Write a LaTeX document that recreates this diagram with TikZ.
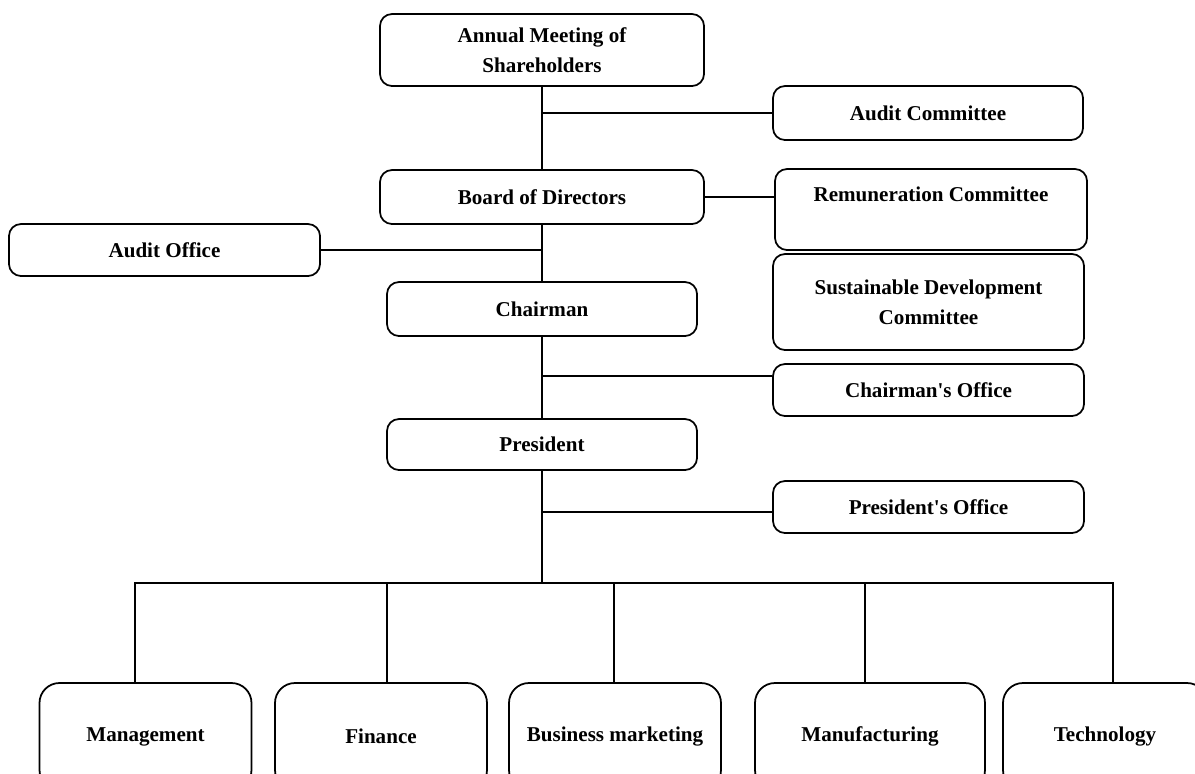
\documentclass[tikz,border=0pt]{standalone}
\usepackage{fontspec}
\setmainfont{Liberation Serif}[Ligatures=TeXOff]
\usetikzlibrary{calc}

\tikzset{
  unit/.style={draw, line width=1.5pt, rounded corners=0.36cm, align=center,
    font=\fontsize{18}{25.6}\selectfont\bfseries, inner sep=0pt},
  dept/.style={unit, rounded corners=0.6cm, minimum width=6.36cm, minimum height=3.21cm},
  wire/.style={line width=1.5pt}
}

\begin{document}
\begin{tikzpicture}[x=0.03cm, y=-0.03cm]

\clip (0,0) rectangle (1195,773);

\node[unit, minimum width=9.72cm, minimum height=2.16cm] (agm) at (542,50)
  {Annual Meeting of\\Shareholders};
\node[unit, minimum width=9.3cm, minimum height=1.62cm] (auditc) at (928,113)
  {Audit Committee};
\node[unit, minimum width=9.72cm, minimum height=1.62cm] (board) at (542,197)
  {Board of Directors};
\node[unit, minimum width=9.36cm, minimum height=2.43cm] (remun) at (931,209.5)
  {Remuneration Committee\\~};
\node[unit, minimum width=9.33cm, minimum height=2.88cm] (sustain) at (928.5,302)
  {Sustainable Development\\Committee};
\node[unit, minimum width=9.33cm, minimum height=1.56cm] (auditoff) at (164.5,250)
  {Audit Office};
\node[unit, minimum width=9.3cm, minimum height=1.62cm] (chair) at (542,309)
  {Chairman};
\node[unit, minimum width=9.33cm, minimum height=1.56cm] (chairoff) at (928.5,390)
  {Chairman's Office};
\node[unit, minimum width=9.3cm, minimum height=1.53cm] (pres) at (542,444.5)
  {President};
\node[unit, minimum width=9.33cm, minimum height=1.56cm] (presoff) at (928.5,507)
  {President's Office};

% departments
\node[dept] (mgmt) at (145.5,736.5) {Management};
\node[dept] (fin) at (381,736.5) {Finance};
\node[dept] (biz) at (615,736.5) {Business marketing};
\node[dept, minimum width=6.9cm] (manu) at (870,736.5) {Manufacturing};
\node[dept, minimum width=6.12cm] (tech) at (1105,736.5) {Technology};

\coordinate (chbranch) at (542,376);
\coordinate (bus) at (542,583);

\begin{scope}[wire]
\draw (agm.south) -- (board.north);
\draw (agm.south |- auditc.west) -- (auditc.west);
\draw (board.east) -- (board.east -| remun.west);
\draw (board.south) -- (chair.north);
\draw (auditoff.east) -- (auditoff.east -| chair.north);
\draw (chair.south) -- (pres.north);
\draw (chbranch) -- (chbranch -| chairoff.west);
\draw (pres.south) -- (bus);
\draw ($(pres.south |- presoff.west)+(0,5)$) -- ($(presoff.west)+(0,5)$);
\foreach \n/\d in {mgmt/-10.5, fin/6, biz/-1, manu/-5, tech/8}
  \draw ([xshift=\d*0.03cm]\n.north) |- (bus);
\end{scope}

\end{tikzpicture}
\end{document}
